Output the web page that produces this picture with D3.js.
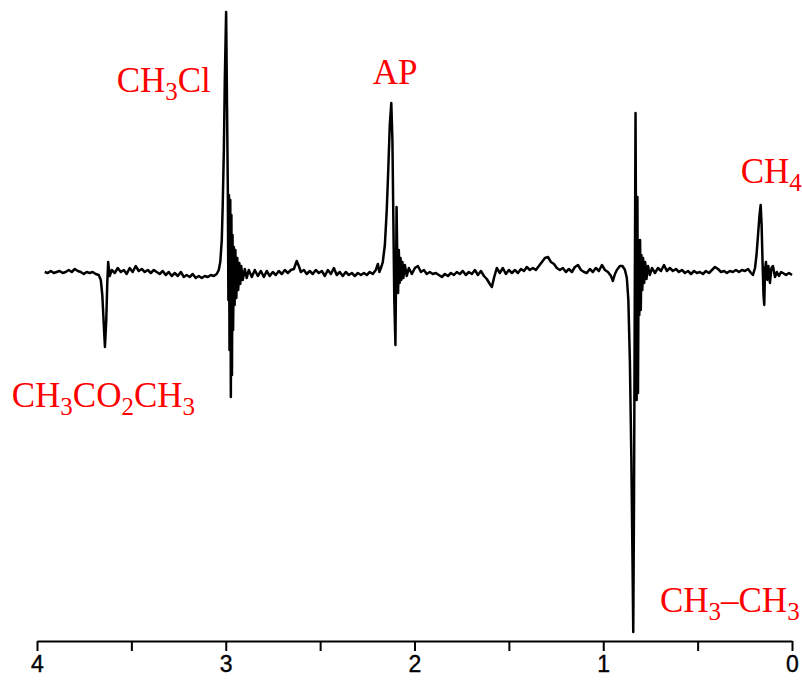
<!DOCTYPE html>
<html lang="en">
  <head>
    <meta charset="utf-8">
    <title>CIDNP spectrum</title>
    <script src="https://d3js.org/d3.v7.js"></script>
    <style>
      body { margin: 0; background: #fff; }
      .lbl { font-family: "Liberation Serif", "Times New Roman", serif; font-size: 35px; fill: red; }
    </style>
  </head>
  <body>
    <script>
    // chemical shift (ppm) and signal intensity (a.u.)
    var ppm = [3.959, 3.943, 3.927, 3.911, 3.896, 3.880, 3.864, 3.848, 3.832, 3.816,
      3.800, 3.784, 3.768, 3.752, 3.737, 3.721, 3.705, 3.689, 3.673, 3.662,
      3.654, 3.646, 3.640, 3.633, 3.628, 3.623, 3.615, 3.604, 3.588, 3.572,
      3.556, 3.540, 3.525, 3.509, 3.493, 3.477, 3.461, 3.445, 3.429, 3.413,
      3.397, 3.381, 3.366, 3.350, 3.334, 3.318, 3.302, 3.286, 3.270, 3.254,
      3.238, 3.222, 3.207, 3.191, 3.175, 3.159, 3.143, 3.127, 3.111, 3.095,
      3.079, 3.063, 3.048, 3.037, 3.029, 3.021, 3.016, 3.010, 3.005, 2.998,
      2.993, 2.989, 2.986, 2.983, 2.980, 2.976, 2.973, 2.970, 2.967, 2.964,
      2.961, 2.957, 2.953, 2.949, 2.944, 2.939, 2.934, 2.928, 2.923, 2.918,
      2.910, 2.899, 2.889, 2.878, 2.862, 2.846, 2.830, 2.814, 2.798, 2.783,
      2.767, 2.751, 2.735, 2.719, 2.703, 2.687, 2.671, 2.655, 2.639, 2.624,
      2.613, 2.602, 2.586, 2.571, 2.555, 2.539, 2.523, 2.507, 2.491, 2.475,
      2.459, 2.443, 2.427, 2.412, 2.396, 2.380, 2.364, 2.348, 2.332, 2.316,
      2.300, 2.284, 2.268, 2.253, 2.237, 2.221, 2.205, 2.194, 2.186, 2.178,
      2.168, 2.157, 2.147, 2.139, 2.131, 2.123, 2.117, 2.112, 2.107, 2.101,
      2.097, 2.095, 2.091, 2.087, 2.083, 2.079, 2.074, 2.070, 2.064, 2.059,
      2.051, 2.041, 2.030, 2.014, 1.998, 1.982, 1.966, 1.950, 1.935, 1.919,
      1.903, 1.887, 1.871, 1.855, 1.839, 1.823, 1.807, 1.791, 1.776, 1.760,
      1.744, 1.728, 1.712, 1.696, 1.680, 1.664, 1.648, 1.632, 1.617, 1.601,
      1.590, 1.579, 1.564, 1.548, 1.532, 1.516, 1.500, 1.484, 1.468, 1.452,
      1.436, 1.420, 1.405, 1.389, 1.373, 1.357, 1.341, 1.325, 1.309, 1.293,
      1.277, 1.261, 1.246, 1.230, 1.214, 1.198, 1.182, 1.166, 1.150, 1.134,
      1.118, 1.102, 1.087, 1.071, 1.055, 1.039, 1.023, 1.007, 0.991, 0.975,
      0.959, 0.949, 0.938, 0.928, 0.912, 0.898, 0.885, 0.875, 0.867, 0.859,
      0.851, 0.845, 0.841, 0.837, 0.833, 0.829, 0.826, 0.823, 0.819, 0.816,
      0.812, 0.809, 0.805, 0.801, 0.798, 0.793, 0.789, 0.783, 0.778, 0.771,
      0.763, 0.753, 0.742, 0.726, 0.710, 0.694, 0.678, 0.663, 0.647, 0.631,
      0.615, 0.599, 0.583, 0.567, 0.551, 0.535, 0.519, 0.504, 0.488, 0.472,
      0.456, 0.440, 0.424, 0.408, 0.392, 0.376, 0.360, 0.345, 0.329, 0.313,
      0.297, 0.281, 0.265, 0.249, 0.233, 0.217, 0.207, 0.196, 0.188, 0.180,
      0.172, 0.166, 0.161, 0.156, 0.151, 0.147, 0.143, 0.138, 0.131, 0.125,
      0.117, 0.109, 0.101, 0.090, 0.080, 0.069, 0.058, 0.048, 0.032, 0.016,
      0.000];

    var intensity = [0, -1, 1, -1, 0, 1, -1, 0, 2, 0,
      3, 1, 0, -2, 0, -1, 0, -2, -3, -8,
      -23, -53, -75, -48, -13, 10, -4, 2, -1, 4,
      0, 2, -2, 4, 0, 6, 1, 3, 0, 2,
      -1, 2, 0, -2, 1, -3, 0, -4, -1, -4,
      0, -5, -3, -5, -2, -6, -4, -6, -4, -5,
      -3, -4, -2, 2, 10, 32, 67, 122, 192, 260,
      162, 82, -28, 77, -78, 72, -125, 57, -103, 37,
      -58, 25, -33, 22, -26, 14, -18, 9, -12, 6,
      -8, 3, -6, 2, -5, 2, -4, 1, -5, 1,
      -4, 0, -3, 1, -2, 2, -1, 2, 3, 11,
      6, 0, 2, -2, 1, -2, 2, -1, 1, -4,
      2, -2, 4, -3, 0, -4, 0, -3, -1, -4,
      -1, -3, -1, -3, 0, -2, 2, 8, 0, 4,
      10, 27, 62, 102, 147, 169, 132, 52, -28, -73,
      12, 65, 10, -21, 22, -11, 14, -8, 10, -6,
      7, -4, 4, -2, 4, 6, 0, 2, -2, 0,
      -2, -1, -3, -5, -2, -4, -1, -3, 0, -2,
      1, -3, 0, -2, 2, -3, 1, -4, -7, -12,
      -15, -6, 4, -1, 4, -2, 2, -1, 2, -1,
      3, 1, 5, 2, 4, 2, 6, 10, 14, 15,
      10, 8, 4, 2, 4, 0, 3, 0, 5, 7,
      2, 0, -1, 3, 0, 4, 1, 7, 2, 0,
      -4, -9, -2, 2, 6, 6, 2, -6, -28, -88,
      -188, -288, -360, -228, -28, 159, 22, -128, 75, -121,
      32, -43, 32, -38, 17, -18, 14, -11, 10, -7,
      6, -3, 4, -1, 4, 1, 7, 1, 4, 1,
      3, 0, 2, -1, 1, -2, 1, -1, 0, -2,
      1, -1, 2, 5, 3, 0, 1, -1, 1, 0,
      2, 0, 2, 1, 3, -1, -3, 4, 17, 37,
      57, 67, 47, 10, -23, -33, 2, 10, -8, 6,
      -11, 4, 6, -5, 0, -4, 0, -1, -3, -1,
      -3];

    var majorTicks = [4, 3, 2, 1, 0];
    var minorTicks = [3.5, 2.5, 1.5, 0.5];

    var w = 802;
    var h = 680;

    var xScale = d3.scaleLinear()
      .domain([4, 0])
      .range([37, 792]);

    var yScale = d3.scaleLinear()
      .domain([-364, 260])
      .range([636, 12]);

    var svg = d3.select("body")
      .append("svg")
      .attr("width", w)
      .attr("height", h);

    // minor ticks (no labels)
    svg.append("g")
      .attr("transform", "translate(0,641)")
      .call(d3.axisBottom(xScale).tickValues(minorTicks).tickFormat("").tickSize(10).tickSizeOuter(0))
      .call(g => g.select(".domain").remove())
      .selectAll("line").attr("stroke-width", 2);

    // main axis
    var xAxis = svg.append("g")
      .attr("transform", "translate(0,641)")
      .call(d3.axisBottom(xScale).tickValues(majorTicks).tickFormat(d3.format("d"))
        .tickSize(10).tickSizeOuter(0).tickPadding(5));
    xAxis.select(".domain").attr("stroke-width", 2);
    xAxis.selectAll("line").attr("stroke-width", 2);
    xAxis.selectAll(".tick text")
      .attr("fill", "#000")
      .style("font-family", "'Liberation Sans', Arial, sans-serif")
      .style("font-size", "23px")
      .style("stroke", "#000")
      .style("stroke-width", "0.4px");

    var pts = ppm.map((d, i) => [d, intensity[i]]);

    var line = d3.line()
      .x(d => xScale(d[0]))
      .y(d => yScale(d[1]));

    svg.append("path")
      .datum(pts)
      .attr("d", line)
      .attr("fill", "none")
      .attr("stroke", "#000")
      .attr("stroke-width", 2.5)
      .attr("stroke-linejoin", "round");

    // peak labels: [text, subscript] pieces placed at (ppm, intensity)
    var labels = [
      {at: [3.578, 180], parts: [["CH", 0], ["3", 1], ["Cl", 0]]},
      {at: [2.221, 188], parts: [["AP", 0]]},
      {at: [0.272, 89], parts: [["CH", 0], ["4", 1]]},
      {at: [4.134, -135], parts: [["CH", 0], ["3", 1], ["CO", 0], ["2", 1], ["CH", 0], ["3", 1]]},
      {at: [0.700, -340], parts: [["CH", 0], ["3", 1], ["\u2013CH", 0], ["3", 1]]}
    ];

    labels.forEach(function (l) {
      var t = svg.append("text")
        .attr("class", "lbl")
        .attr("x", xScale(l.at[0]))
        .attr("y", yScale(l.at[1]));
      var prevSub = 0;
      l.parts.forEach(function (p) {
        var dy = (p[1] - prevSub) * 8;
        t.append("tspan")
          .attr("dy", dy)
          .style("font-size", p[1] ? "25px" : null)
          .text(p[0]);
        prevSub = p[1];
      });
    });
    </script>
  </body>
</html>
